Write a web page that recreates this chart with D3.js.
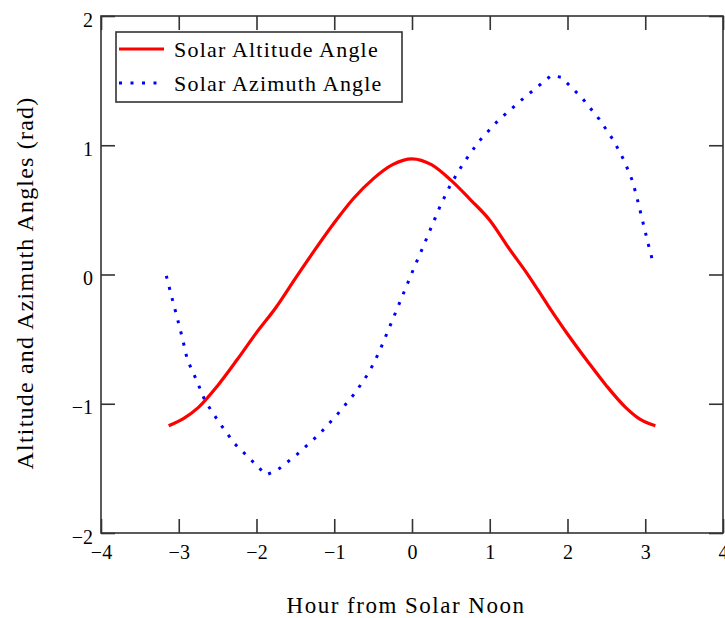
<!DOCTYPE html>
<html>
<head>
<meta charset="utf-8">
<script src="https://cdn.jsdelivr.net/npm/d3@7/dist/d3.min.js"></script>
<style>
  body { margin: 0; background: #fff; }
  svg { display: block; }
  text { font-family: "Liberation Serif", "Times New Roman", serif; fill: #000; }
</style>
</head>
<body>
<div id="chart-area"></div>
<script>
// solar altitude angle (rad) vs hour from solar noon
var altHours = [-3.13, -2.94, -2.75, -2.5, -2.25, -2.0, -1.75, -1.5, -1.25, -1.0, -0.75, -0.5, -0.25, 0,
                0.25, 0.5, 0.75, 1.0, 1.25, 1.5, 1.75, 2.0, 2.25, 2.5, 2.75, 2.92, 3.13];
var altValues = [-1.17, -1.115, -1.03, -0.86, -0.66, -0.45, -0.255, -0.03, 0.19, 0.40, 0.59, 0.74, 0.85, 0.895,
                 0.85, 0.73, 0.58, 0.42, 0.20, -0.01, -0.24, -0.46, -0.665, -0.86, -1.03, -1.115, -1.17];

// solar azimuth angle (rad)
var aziHours = [-3.16, -3.09, -3.02, -2.95, -2.89, -2.77, -2.66, -2.48, -2.28, -2.01, -1.88, -1.745, -1.475,
                -1.20, -0.957, -0.73, -0.55, -0.417, -0.305, -0.193, -0.082, 0.03, 0.145, 0.257, 0.37, 0.50,
                0.66, 0.86, 1.106, 1.384, 1.65, 1.79, 1.92, 2.19, 2.41, 2.59, 2.73, 2.84, 2.91, 2.975, 3.04, 3.11];
var aziValues = [-0.01, -0.175, -0.335, -0.50, -0.66, -0.82, -0.98, -1.145, -1.31, -1.47, -1.55, -1.52, -1.39,
                 -1.24, -1.08, -0.915, -0.755, -0.593, -0.43, -0.268, -0.106, 0.057, 0.217, 0.379, 0.54, 0.70,
                 0.86, 1.03, 1.19, 1.338, 1.47, 1.54, 1.526, 1.364, 1.20, 1.04, 0.88, 0.717, 0.554, 0.392, 0.232, 0.07];

var xTicks = [-4, -3, -2, -1, 0, 1, 2, 3, 4];
var yTicks = [-2, -1, 0, 1, 2];
var seriesNames = ["Solar Altitude Angle", "Solar Azimuth Angle"];

var W = 725, H = 618;
var plotL = 101, plotR = 723, plotT = 16, plotB = 533;
var frameColor = "#333";

var svg = d3.select("#chart-area")
    .append("svg")
    .attr("width", W)
    .attr("height", H);

var x = d3.scaleLinear().domain([-4, 4]).range([plotL, plotR]);
var y = d3.scaleLinear().domain([-2, 2]).range([plotB, plotT]);
var fmt = d3.format("d");

// axes, ticks pointing inward
var gx = svg.append("g")
    .attr("transform", "translate(0," + plotB + ")")
    .call(d3.axisBottom(x).tickValues(xTicks).tickFormat(fmt).tickSize(-14).tickPadding(12));
var gy = svg.append("g")
    .attr("transform", "translate(" + plotL + ",0)")
    .call(d3.axisLeft(y).tickValues(yTicks).tickFormat(fmt).tickSize(-14).tickPadding(8));
var gt = svg.append("g")
    .attr("transform", "translate(0," + plotT + ")")
    .call(d3.axisTop(x).tickValues(xTicks).tickSize(-14).tickFormat(""));
var gr = svg.append("g")
    .attr("transform", "translate(" + plotR + ",0)")
    .call(d3.axisRight(y).tickValues(yTicks).tickSize(-14).tickFormat(""));

[gx, gy, gt, gr].forEach((g) => {
    g.select(".domain").remove();
    g.selectAll(".tick line").attr("stroke", frameColor).attr("stroke-width", 1.6);
    g.selectAll(".tick text")
        .attr("font-family", "Liberation Serif")
        .attr("font-size", 20)
        .attr("fill", "#000");
});
gy.selectAll(".tick text").attr("dy", "0.5em");

svg.append("rect")
    .attr("x", plotL).attr("y", plotT)
    .attr("width", plotR - plotL).attr("height", plotB - plotT)
    .attr("fill", "none")
    .attr("stroke", frameColor)
    .attr("stroke-width", 1.6);

// curves
var altData = altHours.map((h, i) => ({h: h, v: altValues[i]}));
var aziData = aziHours.map((h, i) => ({h: h, v: aziValues[i]}));

var line = d3.line()
    .x((d) => x(d.h))
    .y((d) => y(d.v));
var smoothLine = d3.line()
    .x((d) => x(d.h))
    .y((d) => y(d.v))
    .curve(d3.curveMonotoneX);

svg.append("path")
    .datum(aziData)
    .attr("d", line)
    .attr("fill", "none")
    .attr("stroke", "#0000ff")
    .attr("stroke-width", 3)
    .attr("stroke-dasharray", "3,8.5");

svg.append("path")
    .datum(altData)
    .attr("d", smoothLine)
    .attr("fill", "none")
    .attr("stroke", "#ff0000")
    .attr("stroke-width", 3.2)
    .attr("stroke-linejoin", "round");

// legend
svg.append("rect")
    .attr("x", 116).attr("y", 32)
    .attr("width", 286).attr("height", 70)
    .attr("fill", "#fff")
    .attr("stroke", frameColor)
    .attr("stroke-width", 1.6);

var legend = svg.selectAll(".legend").data(seriesNames).enter()
    .append("g")
    .attr("transform", (d, i) => "translate(0," + (49 + i * 34) + ")");
legend.append("line")
    .attr("x1", 119).attr("x2", 164)
    .attr("stroke", (d, i) => i == 0 ? "#ff0000" : "#0000ff")
    .attr("stroke-width", 3)
    .attr("stroke-dasharray", (d, i) => i == 0 ? null : "3,8.5");
legend.append("text")
    .attr("x", 174)
    .attr("y", 8)
    .attr("font-size", 22)
    .attr("letter-spacing", 1.2)
    .text((d) => d);

// axis titles
svg.append("text")
    .attr("x", (286 + 526) / 2)
    .attr("y", 613)
    .attr("text-anchor", "middle")
    .attr("font-size", 23)
    .attr("letter-spacing", 1.5)
    .text("Hour from Solar Noon");

svg.append("text")
    .attr("transform", "translate(33,283) rotate(-90)")
    .attr("text-anchor", "middle")
    .attr("font-size", 24)
    .attr("letter-spacing", 1.2)
    .text("Altitude and Azimuth Angles (rad)");
</script>
</body>
</html>
